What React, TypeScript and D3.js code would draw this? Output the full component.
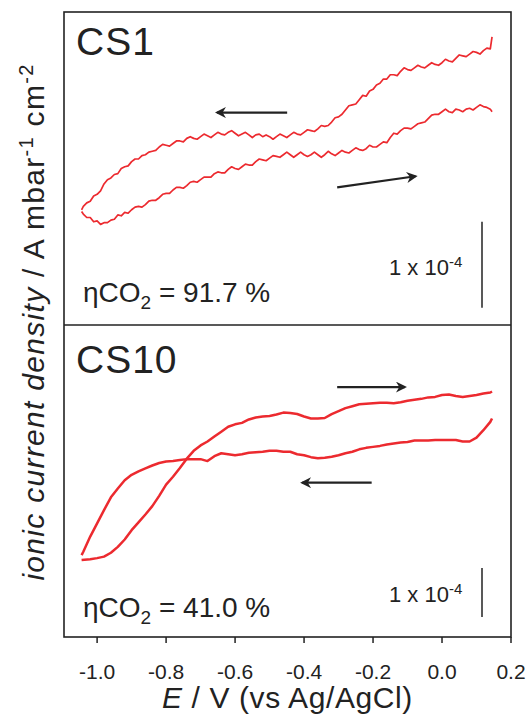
import React from "react";
import * as d3 from "d3";

// potential (V vs Ag/AgCl), current density (units of 1e-4 A mbar-1 cm-2, arbitrary zero)
const potentialTicks = [-1.0, -0.8, -0.6, -0.4, -0.2, 0.0, 0.2];

const cs1Reverse: [number, number][] = [
  [0.145, 3.35], [0.14, 3.21], [0.13, 3.22], [0.12, 3.19], [0.11, 3.15], [0.1, 3.17], [0.09, 3.18],
  [0.08, 3.15], [0.07, 3.12], [0.06, 3.13], [0.05, 3.14], [0.04, 3.1], [0.03, 3.06], [0.02, 3.07],
  [0.01, 3.09], [0.0, 3.05], [-0.01, 3.02], [-0.02, 3.03], [-0.03, 3.05], [-0.04, 3.02], [-0.05, 2.99],
  [-0.06, 3.0], [-0.07, 3.02], [-0.08, 2.99], [-0.09, 2.96], [-0.1, 2.97], [-0.11, 2.99], [-0.12, 2.95],
  [-0.13, 2.9], [-0.14, 2.91], [-0.15, 2.91], [-0.16, 2.86], [-0.17, 2.86], [-0.18, 2.81], [-0.19, 2.79],
  [-0.2, 2.74], [-0.21, 2.72], [-0.22, 2.66], [-0.23, 2.67], [-0.24, 2.62], [-0.25, 2.57], [-0.26, 2.56],
  [-0.27, 2.55], [-0.28, 2.5], [-0.29, 2.45], [-0.3, 2.42], [-0.31, 2.41], [-0.32, 2.36], [-0.33, 2.32],
  [-0.34, 2.31], [-0.35, 2.32], [-0.36, 2.28], [-0.37, 2.25], [-0.38, 2.26], [-0.39, 2.27], [-0.4, 2.24],
  [-0.41, 2.21], [-0.42, 2.22], [-0.43, 2.24], [-0.44, 2.21], [-0.45, 2.18], [-0.46, 2.2], [-0.47, 2.22],
  [-0.48, 2.19], [-0.49, 2.16], [-0.5, 2.19], [-0.51, 2.21], [-0.52, 2.19], [-0.53, 2.22], [-0.54, 2.21],
  [-0.55, 2.18], [-0.56, 2.21], [-0.57, 2.24], [-0.58, 2.22], [-0.59, 2.2], [-0.6, 2.23], [-0.61, 2.26],
  [-0.62, 2.24], [-0.63, 2.21], [-0.64, 2.22], [-0.65, 2.24], [-0.66, 2.21], [-0.67, 2.18], [-0.68, 2.2],
  [-0.69, 2.22], [-0.7, 2.19], [-0.71, 2.16], [-0.72, 2.17], [-0.73, 2.19], [-0.74, 2.17], [-0.75, 2.13],
  [-0.76, 2.14], [-0.77, 2.14], [-0.78, 2.11], [-0.79, 2.08], [-0.8, 2.09], [-0.81, 2.1], [-0.82, 2.07],
  [-0.83, 2.03], [-0.84, 2.02], [-0.85, 2.01], [-0.86, 1.98], [-0.87, 1.97], [-0.88, 1.93], [-0.89, 1.93],
  [-0.9, 1.9], [-0.91, 1.85], [-0.92, 1.84], [-0.93, 1.82], [-0.94, 1.76], [-0.95, 1.75], [-0.96, 1.71],
  [-0.97, 1.69], [-0.98, 1.64], [-0.99, 1.56], [-1.0, 1.52], [-1.01, 1.5], [-1.02, 1.44], [-1.03, 1.42],
  [-1.04, 1.38], [-1.045, 1.34],
];

const cs1Forward: [number, number][] = [
  [-1.045, 1.32], [-1.04, 1.29], [-1.03, 1.25], [-1.02, 1.25], [-1.01, 1.2], [-1.0, 1.21], [-0.99, 1.17],
  [-0.98, 1.19], [-0.97, 1.19], [-0.96, 1.22], [-0.95, 1.23], [-0.94, 1.28], [-0.93, 1.27], [-0.92, 1.31],
  [-0.91, 1.3], [-0.9, 1.34], [-0.89, 1.37], [-0.88, 1.38], [-0.87, 1.37], [-0.86, 1.4], [-0.85, 1.44],
  [-0.84, 1.45], [-0.83, 1.45], [-0.82, 1.48], [-0.81, 1.52], [-0.8, 1.53], [-0.79, 1.53], [-0.78, 1.57],
  [-0.77, 1.6], [-0.76, 1.6], [-0.75, 1.59], [-0.74, 1.62], [-0.73, 1.66], [-0.72, 1.67], [-0.71, 1.66],
  [-0.7, 1.69], [-0.69, 1.72], [-0.68, 1.72], [-0.67, 1.72], [-0.66, 1.76], [-0.65, 1.78], [-0.64, 1.77],
  [-0.63, 1.77], [-0.62, 1.81], [-0.61, 1.84], [-0.6, 1.82], [-0.59, 1.81], [-0.58, 1.84], [-0.57, 1.87],
  [-0.56, 1.86], [-0.55, 1.86], [-0.54, 1.9], [-0.53, 1.93], [-0.52, 1.92], [-0.51, 1.91], [-0.5, 1.94],
  [-0.49, 1.97], [-0.48, 1.96], [-0.47, 1.95], [-0.46, 1.98], [-0.45, 2.01], [-0.44, 1.98], [-0.43, 1.95],
  [-0.42, 1.98], [-0.41, 2.01], [-0.4, 1.98], [-0.39, 1.96], [-0.38, 1.98], [-0.37, 2.01], [-0.36, 1.98],
  [-0.35, 1.95], [-0.34, 1.98], [-0.33, 2.02], [-0.32, 1.99], [-0.31, 1.97], [-0.3, 2.0], [-0.29, 2.03],
  [-0.28, 2.01], [-0.27, 2.0], [-0.26, 2.03], [-0.25, 2.06], [-0.24, 2.04], [-0.23, 2.03], [-0.22, 2.05],
  [-0.21, 2.09], [-0.2, 2.07], [-0.19, 2.07], [-0.18, 2.1], [-0.17, 2.13], [-0.16, 2.12], [-0.15, 2.18],
  [-0.14, 2.23], [-0.13, 2.22], [-0.12, 2.26], [-0.11, 2.29], [-0.1, 2.29], [-0.09, 2.28], [-0.08, 2.31],
  [-0.07, 2.34], [-0.06, 2.35], [-0.05, 2.36], [-0.04, 2.4], [-0.03, 2.44], [-0.02, 2.45], [-0.01, 2.45],
  [0.0, 2.48], [0.01, 2.51], [0.02, 2.48], [0.03, 2.47], [0.04, 2.51], [0.05, 2.5], [0.06, 2.48],
  [0.07, 2.51], [0.08, 2.52], [0.09, 2.5], [0.1, 2.53], [0.11, 2.56], [0.12, 2.54], [0.13, 2.53],
  [0.14, 2.51], [0.145, 2.48],
];

const cs10Reverse: [number, number][] = [
  [0.145, 4.46], [0.14, 4.39], [0.12, 4.22], [0.1, 4.07], [0.08, 3.99], [0.06, 3.99],
  [0.04, 4.02], [0.02, 4.02], [0.0, 4.02], [-0.02, 4.02], [-0.04, 4.01], [-0.06, 4.01],
  [-0.08, 4.01], [-0.1, 3.98], [-0.12, 3.97], [-0.14, 3.95], [-0.16, 3.93], [-0.18, 3.9],
  [-0.2, 3.88], [-0.22, 3.86], [-0.24, 3.83], [-0.26, 3.78], [-0.28, 3.75], [-0.3, 3.71],
  [-0.32, 3.68], [-0.34, 3.66], [-0.36, 3.65], [-0.38, 3.67], [-0.4, 3.71], [-0.42, 3.73],
  [-0.44, 3.78], [-0.46, 3.78], [-0.48, 3.8], [-0.5, 3.8], [-0.52, 3.78], [-0.54, 3.77],
  [-0.56, 3.76], [-0.58, 3.73], [-0.6, 3.71], [-0.62, 3.73], [-0.64, 3.75], [-0.66, 3.69],
  [-0.68, 3.59], [-0.7, 3.63], [-0.72, 3.63], [-0.74, 3.63], [-0.76, 3.61], [-0.78, 3.59],
  [-0.8, 3.58], [-0.82, 3.55], [-0.84, 3.5], [-0.86, 3.44], [-0.88, 3.38], [-0.9, 3.31],
  [-0.92, 3.2], [-0.94, 3.03], [-0.96, 2.85], [-0.98, 2.59], [-1.0, 2.32], [-1.02, 2.05],
  [-1.04, 1.74], [-1.045, 1.67],
];

const cs10Forward: [number, number][] = [
  [-1.045, 1.57], [-1.02, 1.585], [-1.0, 1.61], [-0.98, 1.64], [-0.96, 1.72], [-0.94, 1.84],
  [-0.92, 1.99], [-0.9, 2.18], [-0.88, 2.34], [-0.86, 2.5], [-0.84, 2.67], [-0.82, 2.88],
  [-0.8, 3.11], [-0.78, 3.27], [-0.76, 3.45], [-0.74, 3.64], [-0.72, 3.8], [-0.7, 3.91],
  [-0.68, 3.99], [-0.66, 4.09], [-0.64, 4.19], [-0.62, 4.29], [-0.6, 4.34], [-0.58, 4.37],
  [-0.56, 4.44], [-0.54, 4.48], [-0.52, 4.5], [-0.5, 4.51], [-0.48, 4.54], [-0.46, 4.58],
  [-0.44, 4.57], [-0.42, 4.55], [-0.4, 4.5], [-0.38, 4.46], [-0.36, 4.46], [-0.34, 4.47],
  [-0.32, 4.55], [-0.3, 4.61], [-0.28, 4.67], [-0.26, 4.71], [-0.24, 4.75], [-0.22, 4.76],
  [-0.2, 4.77], [-0.18, 4.78], [-0.16, 4.78], [-0.14, 4.77], [-0.12, 4.79], [-0.1, 4.82],
  [-0.08, 4.84], [-0.06, 4.86], [-0.04, 4.89], [-0.02, 4.9], [0.0, 4.94], [0.02, 4.95],
  [0.04, 4.92], [0.06, 4.9], [0.08, 4.92], [0.1, 4.94], [0.12, 4.97], [0.14, 4.99],
  [0.145, 5.01],
];

// scan-direction arrows: [from, to] in (V, current)
const cs1Arrows: [number, number][][] = [
  [[-0.449, 2.47], [-0.652, 2.47]],
  [[-0.304, 1.6], [-0.077, 1.73]],
];
const cs10Arrows: [number, number][][] = [
  [[-0.304, 5.1], [-0.108, 5.1]],
  [[-0.204, 3.15], [-0.405, 3.15]],
];

const panels = [
  { name: "CS1", eta: "91.7", top: 12, bottom: 325, pxPerUnit: 86, bar: [0.2, 1.2],
    series: [cs1Reverse, cs1Forward], arrows: cs1Arrows, width: 1.7 },
  { name: "CS10", eta: "41.0", top: 325, bottom: 637, pxPerUnit: 49, bar: [0.41, 1.41],
    series: [cs10Reverse, cs10Forward], arrows: cs10Arrows, width: 2.5 },
];

const FONT = "'Liberation Sans', Arial, sans-serif";
const INK = "#222";
const RED = "#ec2a2f";

export default function App() {
  const left = 64, right = 511;
  const x = d3.scaleLinear().domain([-1.096, 0.2]).range([left, right]);
  const fmt = d3.formatLocale({ decimal: ".", thousands: ",", grouping: [3], currency: ["", ""], minus: "-" }).format(".1f");
  const bottom = panels[1].bottom;

  return (
    <svg width={531} height={716} style={{ position: "absolute", left: 0, top: 0 }} fontFamily={FONT}>
      <defs>
        <marker id="head" viewBox="0 0 10 10" refX="8" refY="5" markerWidth="5" markerHeight="5" orient="auto">
          <path d="M0,0 L10,5 L0,10 L3,5 z" fill={INK} />
        </marker>
      </defs>
      {panels.map((p) => {
        const y = d3.scaleLinear()
          .domain([0, (p.bottom - p.top) / p.pxPerUnit])
          .range([p.bottom, p.top]);
        const line = d3.line<[number, number]>().x((d) => x(d[0])).y((d) => y(d[1]));
        const second = p.name === "CS10";
        return (
          <g key={p.name}>
            {p.series.map((s, i) => (
              <path key={i} d={line(s) ?? ""} fill="none" stroke={RED} strokeWidth={p.width} strokeLinejoin="round" />
            ))}
            {p.arrows.map((a, i) => (
              <line key={i} x1={x(a[0][0])} y1={y(a[0][1])} x2={x(a[1][0])} y2={y(a[1][1])}
                stroke={INK} strokeWidth={2.2} markerEnd="url(#head)" />
            ))}
            <line x1={482} x2={482} y1={y(p.bar[0])} y2={y(p.bar[1])} stroke={INK} strokeWidth={1.5} />
            <text x={76} y={second ? 373 : 55} fontSize={39} fill={INK} letterSpacing={1}>{p.name}</text>
            <text x={83} y={second ? 617 : 302} fontSize={28} fill={INK}>
              ηCO<tspan fontSize={19} dy={7}>2</tspan><tspan dy={-7}> = {p.eta} %</tspan>
            </text>
            <text x={389} y={second ? 602 : 275} fontSize={22} fill={INK}>
              1 x 10<tspan fontSize={15} dy={-8}>-4</tspan>
            </text>
          </g>
        );
      })}
      <rect x={left} y={panels[0].top} width={right - left} height={bottom - panels[0].top} fill="none" stroke={INK} strokeWidth={1.6} />
      <line x1={left} x2={right} y1={panels[0].bottom} y2={panels[0].bottom} stroke={INK} strokeWidth={1.6} />
      {potentialTicks.map((t) => (
        <g key={t} transform={`translate(${x(t)},${bottom})`}>
          <line y2={6} stroke={INK} strokeWidth={1.5} />
          <text y={42} textAnchor="middle" fontSize={21} fill={INK}>{fmt(t)}</text>
        </g>
      ))}
      <text x={(left + right) / 2} y={708} textAnchor="middle" fontSize={30} letterSpacing={0.6} fill={INK}>
        <tspan fontStyle="italic">E</tspan> / V (vs Ag/AgCl)
      </text>
      <text transform="translate(44,322) rotate(-90)" textAnchor="middle" fontSize={30} letterSpacing={1.3} fill={INK}>
        <tspan fontStyle="italic">ionic current density</tspan> / A mbar<tspan fontSize={20} dy={-11}>-1</tspan>
        <tspan dy={11}> cm</tspan><tspan fontSize={20} dy={-11}>-2</tspan>
      </text>
    </svg>
  );
}
